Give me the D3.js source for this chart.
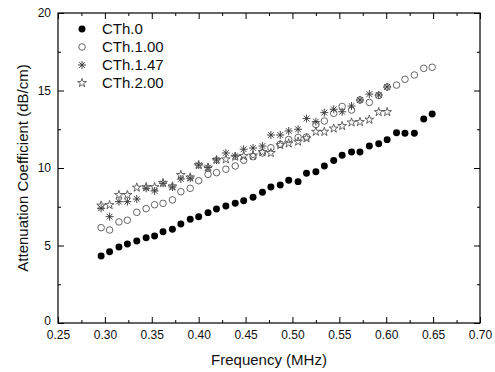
<!DOCTYPE html>
<html>
<head>
<meta charset="utf-8">
<script src="https://cdn.jsdelivr.net/npm/d3@7"></script>
<style>
  body { margin: 0; background: #fff; }
  text { font-family: "Liberation Sans", Arial, sans-serif; fill: #111; }
</style>
</head>
<body>
<div id="chart"></div>
<script>
// frequencies (MHz) shared by all series
const freq = [0.296, 0.305, 0.315, 0.324, 0.334, 0.344, 0.353, 0.362, 0.372, 0.381,
  0.391, 0.400, 0.410, 0.419, 0.429, 0.439, 0.448, 0.458, 0.468, 0.477,
  0.487, 0.496, 0.506, 0.515, 0.525, 0.534, 0.544, 0.553, 0.563, 0.572,
  0.582, 0.592, 0.601, 0.611, 0.620, 0.630, 0.640, 0.649];

// attenuation coefficient (dB/cm)
const cth0 = [4.32, 4.60, 4.90, 5.10, 5.29, 5.50, 5.61, 5.89, 6.05, 6.39,
  6.69, 6.86, 7.12, 7.35, 7.55, 7.72, 7.89, 8.11, 8.43, 8.77,
  8.90, 9.21, 9.12, 9.66, 9.76, 10.13, 10.48, 10.82, 11.03, 11.03,
  11.42, 11.57, 11.83, 12.28, 12.24, 12.24, 13.16, 13.48];
const cth100 = [6.15, 6.00, 6.52, 6.63, 7.14, 7.38, 7.63, 7.72, 7.94, 8.47,
  8.69, 9.18, 9.59, 9.70, 9.92, 10.13, 10.50, 10.73, 10.97, 11.31,
  11.53, 11.84, 11.97, 12.00, 12.81, 13.03, 13.53, 13.97, 13.74, 14.39,
  14.23, 14.68, 15.23, 15.35, 15.72, 16.00, 16.43, 16.50];
const cth147 = [7.40, 6.86, 7.83, 7.83, 8.00, 8.69, 8.52, 9.01, 8.77, 9.29,
  9.34, 10.19, 10.03, 10.52, 10.97, 10.77, 11.21, 11.29, 11.42, 12.13,
  12.13, 12.39, 12.50, 13.19, 12.99, 13.57, 13.79, 13.63, 14.00, 14.39,
  14.77, 14.71, 15.23];
const cth200 = [7.58, 7.61, 8.26, 8.26, 8.74, 8.77, 8.77, 9.03, 8.81, 9.55,
  9.39, 10.19, 10.03, 10.52, 10.56, 10.73, 10.77, 10.81, 11.03, 10.97,
  11.48, 11.59, 11.70, 11.92, 12.34, 12.34, 12.55, 12.71, 12.94, 12.97,
  13.12, 13.61, 13.61];

const seriesNames = ['CTh.0', 'CTh.1.00', 'CTh.1.47', 'CTh.2.00'];
const xTicks = [0.25, 0.30, 0.35, 0.40, 0.45, 0.50, 0.55, 0.60, 0.65, 0.70];
const xMinorTicks = [0.275, 0.325, 0.375, 0.425, 0.475, 0.525, 0.575, 0.625, 0.675];
const yTicks = [0, 5, 10, 15, 20];
const yMinorTicks = [2.5, 7.5, 12.5, 17.5];

const WIDTH = 495;
const HEIGHT = 372;
const MARGIN_TOP = 13;
const MARGIN_RIGHT = 15;
const MARGIN_BOTTOM = 49;
const MARGIN_LEFT = 58;
const chartWidth = WIDTH - MARGIN_LEFT - MARGIN_RIGHT;
const chartHeight = HEIGHT - MARGIN_TOP - MARGIN_BOTTOM;

// 8-armed asterisk
const symbolAsterisk8 = {
  draw(ctx, size) {
    const r = Math.sqrt(size) / 2;
    for (let i = 0; i < 4; i++) {
      const a = i * Math.PI / 4;
      const dx = r * Math.cos(a), dy = r * Math.sin(a);
      ctx.moveTo(-dx, -dy);
      ctx.lineTo(dx, dy);
    }
  }
};

const styles = [
  { type: d3.symbolCircle, size: 38, fill: '#000', stroke: 'none', sw: 0 },
  { type: d3.symbolCircle, size: 34, fill: 'none', stroke: '#555', sw: 0.9 },
  { type: symbolAsterisk8, size: 64, fill: 'none', stroke: '#333', sw: 0.9 },
  { type: d3.symbolStar, size: 24, fill: 'none', stroke: '#555', sw: 0.9 }
];
const seriesValues = [cth0, cth100, cth147, cth200];

const svg = d3.select('#chart').append('svg')
  .attr('width', WIDTH)
  .attr('height', HEIGHT)
  .attr('viewBox', `0 0 ${WIDTH} ${HEIGHT}`);

svg.append('rect').attr('width', WIDTH).attr('height', HEIGHT).attr('fill', '#fff');

const g = svg.append('g').attr('transform', `translate(${MARGIN_LEFT},${MARGIN_TOP})`);

const x = d3.scaleLinear().domain([0.25, 0.70]).range([0, chartWidth]);
const y = d3.scaleLinear().domain([0, 20]).range([chartHeight, 0]);

const styleAxis = sel => {
  sel.select('.domain').remove();
  sel.selectAll('line').attr('stroke', '#000').attr('stroke-width', 1);
  sel.selectAll('text').style('font-size', '12px').attr('fill', '#111');
};

// bottom + top
g.append('g').attr('transform', `translate(0,${chartHeight})`)
  .call(d3.axisBottom(x).tickValues(xTicks).tickFormat(d3.format('.2f')).tickSizeInner(-6).tickSizeOuter(0).tickPadding(7))
  .call(styleAxis);
g.append('g').attr('transform', `translate(0,${chartHeight})`)
  .call(d3.axisBottom(x).tickValues(xMinorTicks).tickFormat('').tickSizeInner(-3).tickSizeOuter(0))
  .call(styleAxis);
g.append('g')
  .call(d3.axisTop(x).tickValues(xTicks).tickFormat('').tickSizeInner(-6).tickSizeOuter(0))
  .call(styleAxis);
g.append('g')
  .call(d3.axisTop(x).tickValues(xMinorTicks).tickFormat('').tickSizeInner(-3).tickSizeOuter(0))
  .call(styleAxis);

// left + right
const yAxisG = g.append('g')
  .call(d3.axisLeft(y).tickValues(yTicks).tickSizeInner(-6).tickSizeOuter(0).tickPadding(7))
  .call(styleAxis);
yAxisG.selectAll('.tick text').filter(d => d === 0).attr('dy', '0.1em');
g.append('g')
  .call(d3.axisLeft(y).tickValues(yMinorTicks).tickFormat('').tickSizeInner(-3).tickSizeOuter(0))
  .call(styleAxis);
g.append('g').attr('transform', `translate(${chartWidth},0)`)
  .call(d3.axisRight(y).tickValues(yTicks).tickFormat('').tickSizeInner(-6).tickSizeOuter(0))
  .call(styleAxis);
g.append('g').attr('transform', `translate(${chartWidth},0)`)
  .call(d3.axisRight(y).tickValues(yMinorTicks).tickFormat('').tickSizeInner(-3).tickSizeOuter(0))
  .call(styleAxis);

g.append('rect')
  .attr('width', chartWidth)
  .attr('height', chartHeight)
  .attr('fill', 'none')
  .attr('stroke', '#000')
  .attr('stroke-width', 1.2);

// points
seriesValues.forEach((vals, i) => {
  const s = styles[i];
  const sym = d3.symbol().type(s.type).size(s.size);
  g.append('g').selectAll('path')
    .data(vals.map((v, j) => ({ f: freq[j], v })))
    .enter()
    .append('path')
    .attr('transform', d => `translate(${x(d.f)},${y(d.v)})`)
    .attr('d', sym)
    .attr('fill', s.fill)
    .attr('stroke', s.stroke)
    .attr('stroke-width', s.sw);
});

// legend
const legend = g.append('g').attr('transform', 'translate(24,16)');
seriesNames.forEach((name, i) => {
  const s = styles[i];
  const row = legend.append('g').attr('transform', `translate(0,${i * 18})`);
  row.append('path')
    .attr('d', d3.symbol().type(s.type).size(s.size)())
    .attr('fill', s.fill)
    .attr('stroke', s.stroke)
    .attr('stroke-width', s.sw);
  row.append('text')
    .attr('x', 20)
    .attr('dy', '0.35em')
    .style('font-size', '15px')
    .text(name);
});

// axis titles
svg.append('text')
  .attr('x', MARGIN_LEFT + chartWidth / 2)
  .attr('y', 365)
  .attr('text-anchor', 'middle')
  .style('font-size', '15px')
  .text('Frequency (MHz)');

svg.append('text')
  .attr('transform', `translate(28,${MARGIN_TOP + chartHeight / 2}) rotate(-90)`)
  .attr('text-anchor', 'middle')
  .style('font-size', '15px')
  .text('Attenuation Coefficient (dB/cm)');
</script>
</body>
</html>
